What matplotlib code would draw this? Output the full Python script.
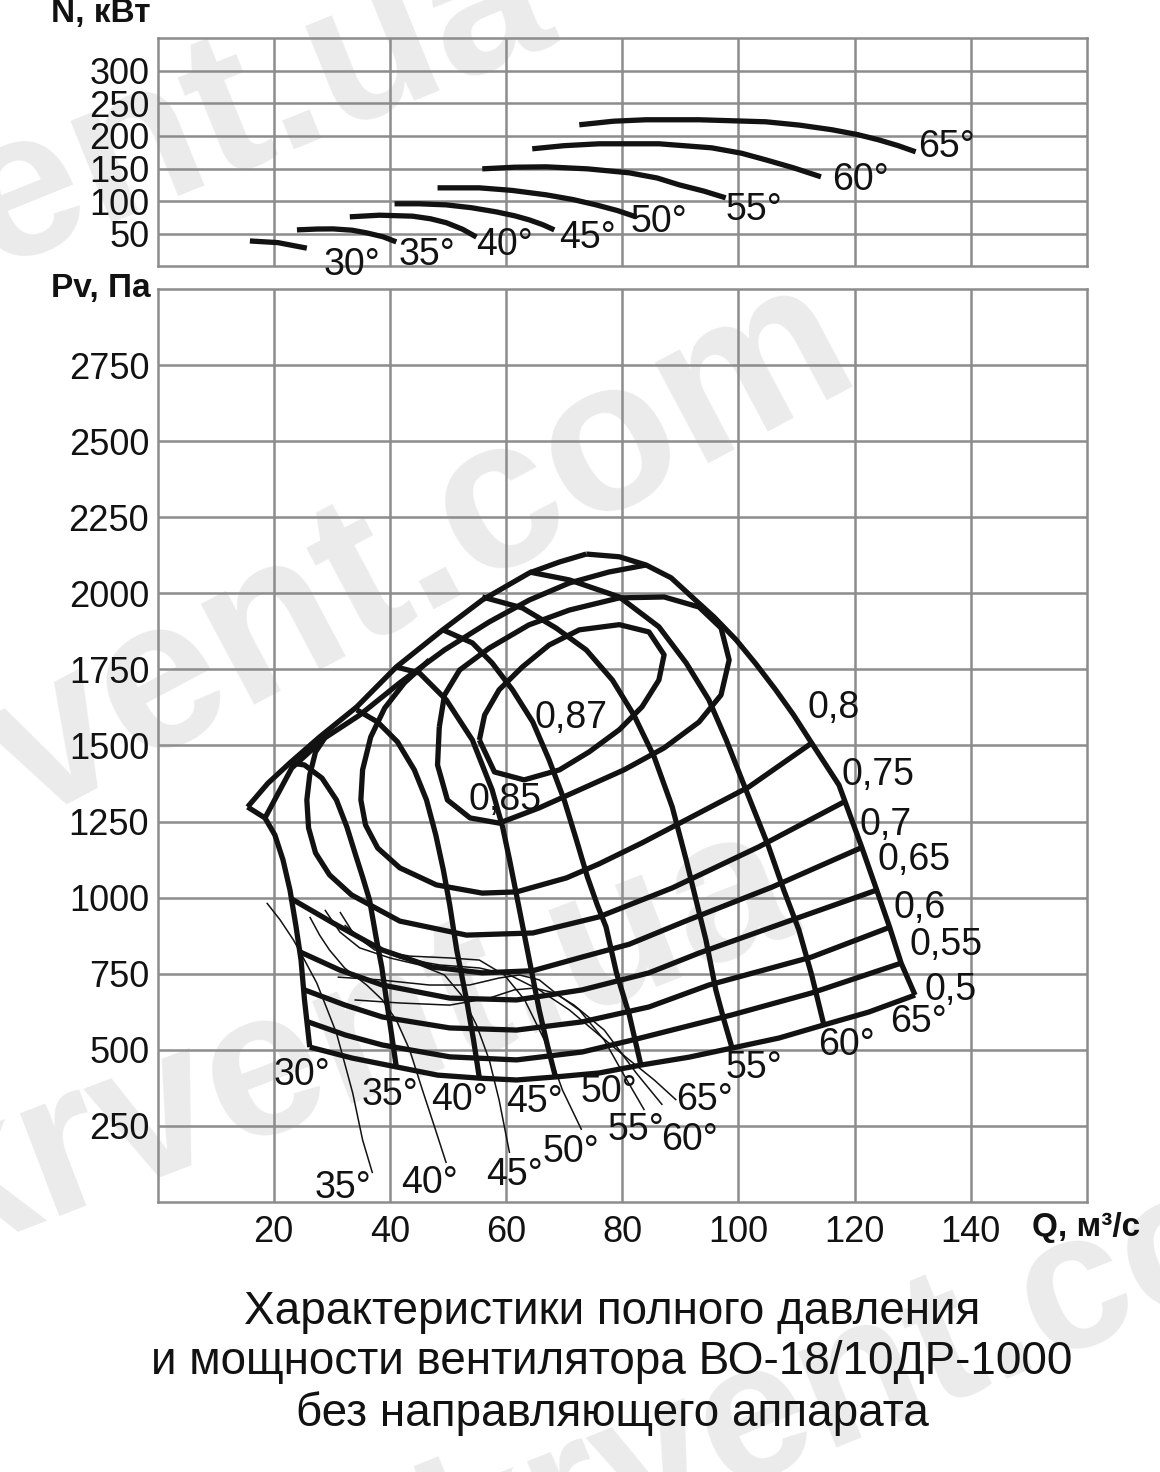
import matplotlib
matplotlib.use("Agg")
import matplotlib.pyplot as plt

plt.rcParams['font.family'] = ['Liberation Sans', 'DejaVu Sans']

# ---------------- power curves N(Q), top panel ----------------
n_30_q = [15.9, 20.7, 25.7]
n_30_n = [39, 36.5, 28]
n_35_q = [24.0, 27.5, 30.2, 33.5, 36.0, 38.8, 41.1]
n_35_n = [56, 57.3, 57.5, 55.5, 51.4, 45.5, 37.6]
n_40_q = [33.1, 38.2, 43.9, 47.0, 49.7, 52.5, 54.9]
n_40_n = [76, 78.5, 77, 73, 67, 57, 45]
n_45_q = [40.8, 45.0, 49.7, 54.0, 58.3, 61.5, 64.0, 66.3, 68.3]
n_45_n = [96, 96, 94.3, 90, 83.6, 77.5, 71.3, 64, 56]
n_50_q = [48.2, 55.4, 61.0, 66.9, 71.5, 75.5, 79.2, 82.4]
n_50_n = [120.4, 120.4, 116.5, 109.7, 102.5, 94.3, 85.5, 75.9]
n_55_q = [55.9, 61.5, 66.9, 74.0, 81.2, 86.0, 89.8, 94.0, 97.8]
n_55_n = [149.5, 152, 152.6, 149.5, 143.4, 135.5, 125.0, 115.5, 105.1]
n_60_q = [64.5, 70.0, 76.0, 86.3, 95.4, 100.5, 104.7, 109.5, 114.2]
n_60_n = [180.2, 185, 187.9, 187.9, 181.7, 173.5, 163.3, 151, 137.3]
n_65_q = [72.6, 78.5, 84.1, 93.2, 104.7, 110.5, 116.1, 120.5, 124.1, 127.5, 130.5]
n_65_n = [217.0, 222.5, 224.7, 224.7, 221.6, 216.5, 209.4, 202, 194.0, 185, 175.6]

n_label_text = ["30°", "35°", "40°", "45°", "50°", "55°", "60°", "65°"]
n_label_q = [33.5, 46.3, 59.7, 74.0, 86.3, 102.7, 121.0, 135.8]
n_label_n = [2, 17.6, 33, 43.7, 68, 86.7, 132.7, 183]

# ---------------- pressure curves Pv(Q) per blade angle ----------------
env_q = [15.5, 19.0, 22.8, 27.9, 34.3, 41.1, 49.1, 55.9, 64.0, 69.2, 73.8]
env_p = [1298, 1376, 1443, 1528, 1627, 1758, 1880, 1978, 2067, 2103, 2129]
cap_q = [15.5, 18.5]
cap_p = [1298, 1262]
inner_q = [18.5, 23.1, 28.8, 34.8, 41.7, 49.4, 57.1, 64.0, 70.9, 77.7, 84.1]
inner_p = [1262, 1426, 1525, 1600, 1706, 1814, 1906, 1978, 2034, 2070, 2093]

b30_q = [18.5, 20.2, 21.6, 22.8, 23.8, 24.7, 25.3, 26.2]
b30_p = [1262, 1206, 1124, 1025, 910, 795, 664, 509]
b35_q = [22.8, 25.3, 28.3, 30.8, 32.6, 34.1, 35.3, 36.5, 37.7, 38.6, 39.4, 40.3, 41.1]
b35_p = [1443, 1436, 1393, 1321, 1232, 1140, 1068, 992, 861, 772, 664, 549, 444]
b40_q = [34.3, 37.9, 41.3, 44.2, 46.3, 47.9, 49.2, 50.3, 51.5, 53.2, 54.4, 55.4]
b40_p = [1617, 1577, 1512, 1420, 1321, 1206, 1091, 976, 828, 664, 532, 407]
b45_q = [41.1, 45.1, 49.7, 54.2, 57.6, 59.4, 60.6, 62.3, 64.0, 65.7, 67.1, 68.5]
b45_p = [1758, 1738, 1650, 1518, 1354, 1232, 1124, 960, 795, 631, 516, 411]
b50_q = [49.1, 54.2, 57.6, 61.1, 64.6, 67.4, 70.0, 72.1, 74.0, 75.7, 77.2, 79.0, 81.2, 83.2]
b50_p = [1880, 1837, 1771, 1683, 1577, 1453, 1321, 1190, 1068, 976, 904, 753, 615, 450]
b55_q = [55.9, 62.8, 68.6, 73.8, 78.3, 82.0, 85.5, 88.6, 91.0, 92.7, 94.4, 96.1, 97.5, 98.9]
b55_p = [1988, 1952, 1886, 1814, 1715, 1600, 1462, 1298, 1124, 992, 861, 697, 598, 506]
b60_q = [64.0, 70.9, 79.5, 86.3, 91.0, 94.9, 97.9, 100.6, 103.0, 105.2, 107.8, 110.4, 112.6, 114.7]
b60_p = [2070, 2044, 1988, 1890, 1771, 1650, 1518, 1387, 1272, 1167, 1025, 894, 746, 582]
b65_q = [73.8, 79.5, 84.1, 88.4, 92.0, 95.8, 99.6, 103.0, 106.4, 109.5, 112.6, 117.3, 121.2, 123.8, 126.0, 128.0, 130.4]
b65_p = [2129, 2120, 2093, 2051, 1988, 1922, 1847, 1768, 1683, 1600, 1508, 1370, 1167, 1025, 904, 785, 680]

blade_label_text = ["30°", "35°", "40°", "45°", "50°", "55°", "60°", "65°"]
blade_label_q = [24.9, 40.0, 52.0, 64.9, 77.7, 102.7, 118.6, 131.0]
blade_label_p = [417, 352, 335, 329, 361, 440, 516, 592]

# ---------------- efficiency contours ----------------
eff_87_q = [55.4, 56.3, 58.8, 62.8, 67.4, 72.6, 79.5, 84.6, 87.2, 86.3, 83.4, 79.5, 74.3, 69.2, 63.1, 58.0, 55.4]
eff_87_p = [1518, 1600, 1683, 1758, 1830, 1880, 1897, 1873, 1798, 1715, 1627, 1552, 1479, 1420, 1387, 1413, 1518]
eff_85_q = [48.5, 49.4, 52.0, 57.1, 63.9, 70.9, 79.5, 87.2, 93.2, 97.0, 98.4, 97.0, 93.2, 87.2, 80.3, 72.6, 65.7, 58.8, 53.8, 49.9, 48.2, 48.5]
eff_85_p = [1561, 1666, 1748, 1820, 1896, 1945, 1985, 1988, 1955, 1886, 1781, 1666, 1577, 1492, 1420, 1354, 1295, 1245, 1262, 1321, 1436, 1561]
eff_80_q = [46.8, 42.5, 39.1, 36.7, 35.3, 35.0, 35.8, 37.9, 41.7, 48.0, 55.9, 61.8, 70.4, 76.0, 83.4, 93.2, 101.8, 112.6]
eff_80_p = [1781, 1706, 1623, 1528, 1420, 1321, 1239, 1163, 1098, 1042, 1015, 1019, 1065, 1111, 1180, 1278, 1364, 1508]
eff_75_q = [28.8, 27.2, 26.2, 25.7, 26.0, 27.2, 29.6, 33.4, 41.7, 53.2, 64.6, 76.0, 88.6, 103.5, 118.1]
eff_75_p = [1525, 1479, 1403, 1321, 1229, 1147, 1075, 1009, 923, 877, 884, 937, 1032, 1167, 1314]
eff_70_q = [22.8, 30.2, 38.7, 47.3, 55.9, 64.6, 73.1, 81.2, 91.0, 105.8, 121.0]
eff_70_p = [999, 917, 828, 772, 753, 760, 805, 847, 924, 1035, 1163]
eff_65_q = [24.5, 31.4, 38.7, 50.3, 61.8, 73.1, 84.6, 93.2, 108.2, 123.8]
eff_65_p = [822, 762, 713, 670, 664, 697, 753, 818, 920, 1025]
eff_60_q = [25.3, 32.3, 38.7, 50.3, 61.8, 73.1, 84.6, 94.9, 112.6, 126.2]
eff_60_p = [697, 647, 608, 572, 565, 592, 641, 713, 805, 904]
eff_55_q = [25.9, 32.3, 38.7, 50.3, 61.8, 73.1, 81.7, 98.9, 112.6, 128.0]
eff_55_p = [592, 549, 516, 477, 467, 493, 532, 615, 687, 785]
eff_50_q = [26.2, 33.5, 41.1, 48.2, 55.4, 61.8, 68.5, 76.0, 83.2, 91.5, 98.9, 107.0, 114.7, 122.4, 130.4]
eff_50_p = [509, 473, 444, 417, 407, 401, 411, 424, 450, 476, 506, 539, 582, 624, 680]

eff_label_text = ["0,87", "0,85", "0,8", "0,75", "0,7", "0,65", "0,6", "0,55", "0,5"]
eff_label_q = [71.2, 59.9, 116.3, 124.0, 125.4, 130.2, 131.1, 135.7, 136.6]
eff_label_p = [1590, 1321, 1623, 1403, 1239, 1124, 966, 845, 697]

# ---------------- thin lines ----------------
t35_q = [18.8, 21.1, 23.4, 25.3, 27.4, 29.1, 30.8, 32.2, 33.6, 35.3, 37.0]
t35_p = [983, 927, 861, 795, 720, 638, 555, 457, 358, 204, 95]
t40_q = [26.2, 27.9, 29.6, 32.2, 36.0, 38.7, 41.1, 43.4, 45.6, 47.7, 49.7]
t40_p = [937, 877, 828, 769, 713, 664, 598, 500, 368, 246, 128]
t45_q = [28.8, 31.4, 34.8, 40.0, 45.1, 49.4, 52.3, 54.9, 57.1, 58.8, 60.6]
t45_p = [960, 887, 835, 802, 779, 746, 680, 582, 467, 335, 161]
t50_q = [31.4, 33.9, 37.4, 43.4, 50.3, 55.4, 59.7, 63.2, 66.6, 69.7, 73.0]
t50_p = [953, 877, 828, 808, 802, 795, 746, 664, 532, 368, 237]
t55_q = [31.0, 38.2, 46.8, 53.7, 58.8, 62.3, 65.7, 68.3, 72.6, 76.9, 80.3, 83.8]
t55_p = [739, 730, 713, 713, 736, 746, 730, 690, 631, 532, 417, 302]
t60_q = [33.9, 41.7, 50.3, 57.1, 61.4, 64.9, 68.3, 71.7, 76.9, 82.4, 86.9]
t60_p = [664, 654, 647, 670, 697, 703, 687, 647, 565, 424, 319]
t65_q = [32.2, 36.5, 41.7, 48.5, 55.4, 60.6, 65.7, 70.9, 76.0, 81.2, 85.5, 89.3]
t65_p = [910, 844, 802, 779, 769, 746, 697, 631, 549, 467, 401, 335]

thin_label_text = ["35°", "40°", "45°", "50°", "55°", "60°", "65°"]
thin_label_q = [31.9, 46.8, 61.4, 71.2, 82.4, 91.5, 94.1]
thin_label_p = [46, 62, 89, 164, 237, 204, 335]

x_ticks = [20, 40, 60, 80, 100, 120, 140]
p_ticks = [250, 500, 750, 1000, 1250, 1500, 1750, 2000, 2250, 2500, 2750]
n_ticks = [50, 100, 150, 200, 250, 300]

title_lines = ["Характеристики полного давления",
               "и мощности вентилятора ВО-18/10ДР-1000",
               "без направляющего аппарата"]

GRID = "#8c8c8c"
INK = "#121212"
THICK = 3.8
THIN = 1.1
LABEL_FS = 27

fig = plt.figure(figsize=(11.6, 14.72), dpi=100)

# faint watermarks behind everything
wm = dict(color="#ebebeb", fontweight="bold", zorder=-1, ha="left", va="baseline",
          rotation_mode="anchor")
fig.text(-0.258, 0.74, "krvent.ua", fontsize=150, rotation=22, **wm)
fig.text(-0.13, 0.38, "krvent.com", fontsize=155, rotation=28, **wm)
fig.text(-0.054, 0.146, "krvent.ua", fontsize=150, rotation=21, **wm)
fig.text(0.39, -0.085, "krvent.com", fontsize=140, rotation=22, **wm)

ax_n = fig.add_axes([0.1358, 0.8190, 0.8013, 0.1552])
ax_p = fig.add_axes([0.1358, 0.1834, 0.8013, 0.6203])

for ax in (ax_n, ax_p):
    ax.patch.set_alpha(0)
    ax.set_xlim(0, 160)
    ax.set_xticks(x_ticks)
    ax.grid(True, color=GRID, linewidth=1.8)
    ax.set_axisbelow(True)
    ax.tick_params(length=0, labelsize=26, labelcolor=INK)
    for s in ax.spines.values():
        s.set_color(GRID)
        s.set_linewidth(1.8)

ax_n.set_ylim(0, 350)
ax_n.set_yticks(n_ticks)
ax_n.set_yticklabels([str(v) for v in n_ticks])
ax_n.tick_params(axis="y", pad=6)
ax_n.set_xticklabels([])

ax_p.set_ylim(0, 3000)
ax_p.set_yticks(p_ticks)
ax_p.set_yticklabels([str(v) for v in p_ticks])
ax_p.tick_params(axis="y", pad=6)
ax_p.set_xticklabels([str(v) for v in x_ticks])
ax_p.tick_params(axis="x", pad=9)

line_kw = dict(color=INK, solid_capstyle="butt", solid_joinstyle="round")

# top panel
for q, n in [(n_30_q, n_30_n), (n_35_q, n_35_n), (n_40_q, n_40_n), (n_45_q, n_45_n),
             (n_50_q, n_50_n), (n_55_q, n_55_n), (n_60_q, n_60_n), (n_65_q, n_65_n)]:
    ax_n.plot(q, n, linewidth=THICK, **line_kw)
for t, q, n in zip(n_label_text, n_label_q, n_label_n):
    ax_n.text(q, n, t, fontsize=LABEL_FS, ha="center", va="center", color=INK, clip_on=False)

# lower panel: thick curves
thick_curves = [(env_q, env_p), (cap_q, cap_p), (inner_q, inner_p),
                (b30_q, b30_p), (b35_q, b35_p), (b40_q, b40_p), (b45_q, b45_p),
                (b50_q, b50_p), (b55_q, b55_p), (b60_q, b60_p), (b65_q, b65_p),
                (eff_87_q, eff_87_p), (eff_85_q, eff_85_p), (eff_80_q, eff_80_p),
                (eff_75_q, eff_75_p), (eff_70_q, eff_70_p), (eff_65_q, eff_65_p),
                (eff_60_q, eff_60_p), (eff_55_q, eff_55_p), (eff_50_q, eff_50_p)]
for q, p in thick_curves:
    ax_p.plot(q, p, linewidth=THICK, **line_kw)

for q, p in [(t35_q, t35_p), (t40_q, t40_p), (t45_q, t45_p), (t50_q, t50_p),
             (t55_q, t55_p), (t60_q, t60_p), (t65_q, t65_p)]:
    ax_p.plot(q, p, linewidth=THIN, **line_kw)

for t, q, p in zip(blade_label_text, blade_label_q, blade_label_p):
    ax_p.text(q, p, t, fontsize=LABEL_FS, ha="center", va="center", color=INK)
for t, q, p in zip(thin_label_text, thin_label_q, thin_label_p):
    ax_p.text(q, p, t, fontsize=LABEL_FS, ha="center", va="center", color=INK)
for t, q, p in zip(eff_label_text, eff_label_q, eff_label_p):
    ax_p.text(q, p, t, fontsize=LABEL_FS, ha="center", va="center", color=INK)

# axis titles
fig.text(0.087, 0.991, "N, кВт", fontsize=24, fontweight="bold", ha="center", va="center", color=INK)
fig.text(0.087, 0.8043, "Pv, Па", fontsize=24, fontweight="bold", ha="center", va="center", color=INK)
fig.text(0.936, 0.1658, "Q, м³/с", fontsize=24, fontweight="bold", ha="center", va="center", color=INK)

for y, line in zip([0.1087, 0.0747, 0.0394], title_lines):
    fig.text(0.5276, y, line, fontsize=33, ha="center", va="center", color=INK)

fig.savefig("out.png", dpi=100)
